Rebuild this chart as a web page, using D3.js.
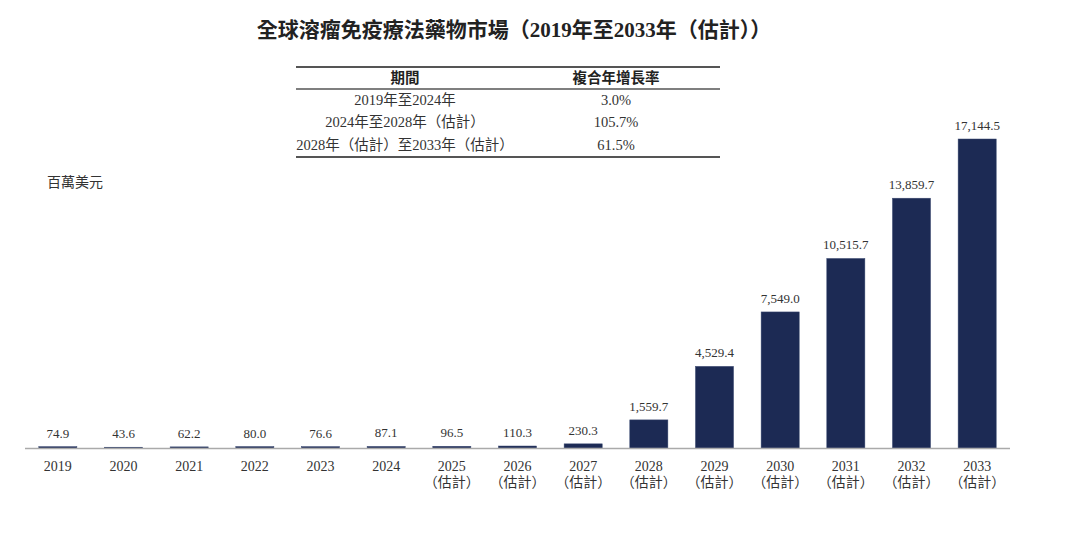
<!DOCTYPE html>
<html><head><meta charset="utf-8">
<script src="https://cdn.jsdelivr.net/npm/d3@7"></script>
<style>
body{margin:0;background:#fff;}
svg text{font-family:"Liberation Serif","Noto Sans CJK TC",serif;}
</style></head>
<body><svg id="c" width="1080" height="556"></svg>
<script>
const years = ["2019","2020","2021","2022","2023","2024","2025","2026","2027","2028","2029","2030","2031","2032","2033"];
const estimated = [false,false,false,false,false,false,true,true,true,true,true,true,true,true,true];
const values = [74.9,43.6,62.2,80.0,76.6,87.1,96.5,110.3,230.3,1559.7,4529.4,7549.0,10515.7,13859.7,17144.5];
const valueLabels = ["74.9","43.6","62.2","80.0","76.6","87.1","96.5","110.3","230.3","1,559.7","4,529.4","7,549.0","10,515.7","13,859.7","17,144.5"];
const tablePeriods = ["2019年至2024年","2024年至2028年（估計）","2028年（估計）至2033年（估計）"];
const tableCagr = ["3.0%","105.7%","61.5%"];
const tableHeaders = ["期間","複合年增長率"];
const title = "全球溶瘤免疫療法藥物市場（2019年至2033年（估計））";
const unitLabel = "百萬美元";
const estLabel = "（估計）";

const svg = d3.select("#c");
const base = 448;
const x = d3.scaleBand().domain(years).range([25,1010]).paddingInner(0.42).paddingOuter(0.21);
const y = d3.scaleLinear().domain([0,17144.5]).range([base,139]);

svg.append("text").attr("x",514).attr("y",37).attr("text-anchor","middle")
  .attr("font-size",21).attr("font-weight","bold").attr("fill","#222").text(title);

// table
const tl=296, tr=720, c1=405, c2=616;
svg.append("line").attr("x1",tl).attr("x2",tr).attr("y1",67).attr("y2",67).attr("stroke","#555").attr("stroke-width",2);
svg.append("line").attr("x1",tl).attr("x2",tr).attr("y1",89).attr("y2",89).attr("stroke","#555").attr("stroke-width",1.5);
svg.append("line").attr("x1",tl).attr("x2",tr).attr("y1",157).attr("y2",157).attr("stroke","#555").attr("stroke-width",2);
svg.selectAll(".th").data(tableHeaders).join("text")
  .attr("x",(d,i)=>i?c2:c1).attr("y",83).attr("text-anchor","middle")
  .attr("font-size",14.5).attr("font-weight","bold").attr("fill","#222").text(d=>d);
const rowY=[105,127,150];
svg.selectAll(".tp").data(tablePeriods).join("text")
  .attr("x",c1).attr("y",(d,i)=>rowY[i]).attr("text-anchor","middle")
  .attr("font-size",14.5).attr("fill","#333").text(d=>d);
svg.selectAll(".tc").data(tableCagr).join("text")
  .attr("x",c2).attr("y",(d,i)=>rowY[i]).attr("text-anchor","middle")
  .attr("font-size",14.5).attr("fill","#333").text(d=>d);

svg.append("text").attr("x",47).attr("y",187).attr("font-size",14).attr("fill","#333").text(unitLabel);

// bars
svg.selectAll(".bar").data(values).join("rect")
  .attr("x",(d,i)=>x(years[i])).attr("width",x.bandwidth())
  .attr("y",d=>y(d)).attr("height",d=>base-y(d))
  .attr("fill","#1c2a54").attr("stroke","#3a4870").attr("stroke-width",0.5);

svg.selectAll(".vl").data(values).join("text")
  .attr("x",(d,i)=>x(years[i])+x.bandwidth()/2).attr("y",d=>y(d)-9)
  .attr("text-anchor","middle").attr("font-size",13).attr("fill","#333")
  .text((d,i)=>valueLabels[i]);

// axis
const ax = svg.append("g").attr("transform",`translate(0,${base})`).call(d3.axisBottom(x).tickSize(0).tickPadding(0).tickFormat(()=>""));
ax.select(".domain").attr("stroke","#aaa").attr("stroke-width",1.5).attr("d","M25,0.5H1010");
ax.selectAll(".tick").each(function(d,i){
  const g=d3.select(this);
  g.append("text").attr("y",23).attr("text-anchor","middle").attr("font-size",14).attr("fill","#333").text(d);
  if(estimated[i]) g.append("text").attr("y",39).attr("text-anchor","middle").attr("font-size",14).attr("fill","#333").text(estLabel);
});
</script></body></html>
